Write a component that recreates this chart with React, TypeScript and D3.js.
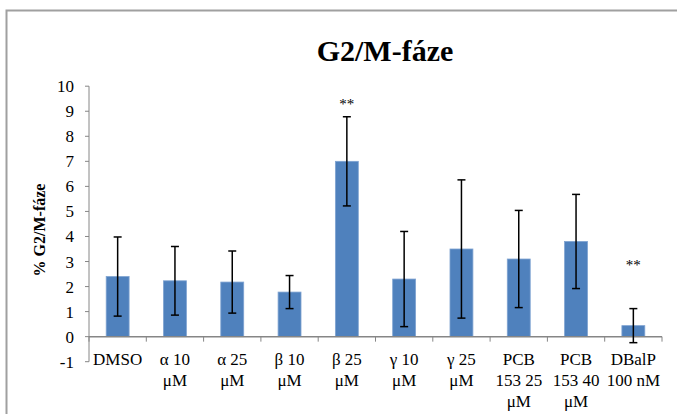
import React, { useEffect, useRef } from "react";
import * as d3 from "d3";

const categories = [
  ["DMSO"],
  ["α 10", "μM"],
  ["α 25", "μM"],
  ["β 10", "μM"],
  ["β 25", "μM"],
  ["γ 10", "μM"],
  ["γ 25", "μM"],
  ["PCB", "153 25", "μM"],
  ["PCB", "153 40", "μM"],
  ["DBalP", "100 nM"],
];
const values = [2.4, 2.23, 2.18, 1.78, 7.0, 2.3, 3.5, 3.1, 3.8, 0.44];
const errors = [1.58, 1.37, 1.24, 0.66, 1.78, 1.9, 2.76, 1.94, 1.88, 0.68];
const significance = ["", "", "", "", "**", "", "", "", "", "**"];
const sigLevels = [0, 0, 0, 0, 9.4, 0, 0, 0, 0, 3.0];
const yTicks = [-1, 0, 1, 2, 3, 4, 5, 6, 7, 8, 9, 10];

const App = () => {
  const ref = useRef<SVGSVGElement>(null);

  useEffect(() => {
    const width = 677;
    const height = 414;
    const svg = d3.select(ref.current).attr("width", width).attr("height", height);
    svg.selectAll("*").remove();

    const font = "Liberation Serif, DejaVu Serif, serif";
    const axisColor = "#868686";

    // chart frame
    svg.append("rect")
      .attr("x", 6.5).attr("y", 10.5)
      .attr("width", 700).attr("height", 420)
      .attr("fill", "#fff")
      .attr("stroke", "#a0a0a0")
      .attr("stroke-width", 2);

    const x = d3.scaleBand<number>()
      .domain(d3.range(categories.length))
      .range([89, 662])
      .paddingInner(0.6)
      .paddingOuter(0.3);

    const y = d3.scaleLinear().domain([-1, 10]).range([361.7, 86.2]);

    svg.append("text")
      .attr("x", 385).attr("y", 61)
      .attr("text-anchor", "middle")
      .attr("font-family", font)
      .attr("font-weight", "bold")
      .attr("font-size", 30)
      .text("G2/M-fáze");

    svg.append("text")
      .attr("transform", `translate(45,230) rotate(-90)`)
      .attr("text-anchor", "middle")
      .attr("font-family", font)
      .attr("font-weight", "bold")
      .attr("font-size", 16)
      .text("% G2/M-fáze");

    // y axis
    svg.append("line")
      .attr("x1", 89).attr("x2", 89)
      .attr("y1", y(10)).attr("y2", y(-1))
      .attr("stroke", axisColor);
    const yt = svg.append("g").selectAll("g").data(yTicks).enter().append("g");
    yt.append("line")
      .attr("x1", 85).attr("x2", 89)
      .attr("y1", d => y(d)).attr("y2", d => y(d))
      .attr("stroke", axisColor);
    yt.append("text")
      .attr("x", 74).attr("y", d => y(d) + 6)
      .attr("text-anchor", "end")
      .attr("font-family", font)
      .attr("font-size", 17)
      .text(d => d);

    // bars
    svg.append("g").selectAll("rect").data(values).enter().append("rect")
      .attr("x", (_, i) => x(i)!)
      .attr("width", x.bandwidth())
      .attr("y", d => y(d))
      .attr("height", d => y(0) - y(d))
      .attr("fill", "#4f81bd")
      .attr("stroke", "#7fa3d1")
      .attr("stroke-width", 0.8);

    // x axis
    svg.append("line")
      .attr("x1", 89).attr("x2", 662)
      .attr("y1", y(0)).attr("y2", y(0))
      .attr("stroke", axisColor)
      .attr("stroke-width", 1.5);
    const step = x.step();
    svg.append("g").selectAll("line").data(d3.range(categories.length + 1)).enter().append("line")
      .attr("x1", i => 89 + i * step).attr("x2", i => 89 + i * step)
      .attr("y1", y(0)).attr("y2", y(0) + 5)
      .attr("stroke", axisColor);

    // error bars
    const eb = svg.append("g").selectAll("g").data(values).enter().append("g")
      .attr("stroke", "#000").attr("stroke-width", 1.5);
    const cx = (i: number) => x(i)! + x.bandwidth() / 2;
    eb.append("line")
      .attr("x1", (_, i) => cx(i)).attr("x2", (_, i) => cx(i))
      .attr("y1", (d, i) => y(d + errors[i])).attr("y2", (d, i) => y(d - errors[i]));
    eb.append("line")
      .attr("x1", (_, i) => cx(i) - 4).attr("x2", (_, i) => cx(i) + 4)
      .attr("y1", (d, i) => y(d + errors[i])).attr("y2", (d, i) => y(d + errors[i]));
    eb.append("line")
      .attr("x1", (_, i) => cx(i) - 4).attr("x2", (_, i) => cx(i) + 4)
      .attr("y1", (d, i) => y(d - errors[i])).attr("y2", (d, i) => y(d - errors[i]));

    // significance
    svg.append("g").selectAll("text").data(significance).enter().append("text")
      .attr("x", (_, i) => cx(i))
      .attr("y", (_, i) => y(sigLevels[i]) + 8)
      .attr("text-anchor", "middle")
      .attr("font-family", font)
      .attr("font-size", 15)
      .text(d => d);

    // category labels
    const lab = svg.append("g").selectAll("text").data(categories).enter().append("text")
      .attr("text-anchor", "middle")
      .attr("font-family", font)
      .attr("font-size", 17);
    lab.selectAll("tspan").data((d, i) => d.map(s => ({ s, i }))).enter().append("tspan")
      .attr("x", d => cx(d.i))
      .attr("y", (_, j) => 365 + j * 21)
      .text(d => d.s);
  }, []);

  return <svg ref={ref} style={{ position: "absolute", left: 0, top: 0 }}></svg>;
};

export default App;
